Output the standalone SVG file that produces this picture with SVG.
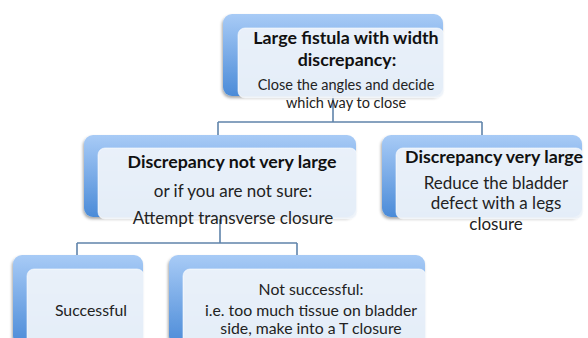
<svg xmlns="http://www.w3.org/2000/svg" width="588" height="338" viewBox="0 0 588 338">
<style>
.back{fill:url(#bg);filter:url(#sh)}
.card{fill:#eef3fa;fill-opacity:0.94;stroke:#ffffff;stroke-width:0.6}
.b{font-family:Lato,"Open Sans",sans-serif;font-weight:bold;font-size:17.8px;fill:#111;text-anchor:middle}
.t{font-family:Lato,"Open Sans",sans-serif;font-size:14.5px;fill:#222;text-anchor:middle}
.m{font-size:17px}
.s{font-size:15.8px}
.c{fill:none;stroke:#6084ab;stroke-width:1.6}
</style>
<defs>
<linearGradient id="bg" x1="0" y1="0" x2="0" y2="1">
<stop offset="0" stop-color="#a8cbf6"/>
<stop offset="1" stop-color="#4b8bd8"/>
</linearGradient>
<filter id="sh" x="-10%" y="-10%" width="120%" height="130%">
<feDropShadow dx="-1" dy="2" stdDeviation="1.5" flood-color="#000" flood-opacity="0.35"/>
</filter>
</defs>
<g id="connectors">
<path class="c" d="M333 96 V122 M218 122 H482 M218 122 V135 M482 122 V135"/>
<path class="c" d="M220 218 V243 M77 243 H297 M77 243 V255"/>
<path class="c" d="M297 243 V255"/>
</g>
<g id="n1">
<rect class="back" x="223" y="14" width="220" height="82" rx="9"/>
<rect class="card" x="238" y="28" width="206" height="70" rx="7"/>
<text class="b" x="346" y="44">Large fistula with width</text>
<text class="b" x="347" y="66">discrepancy:</text>
<text class="t" x="346" y="90">Close the angles and decide</text>
<text class="t" x="346" y="108">which way to close</text>
</g>
<g id="n2">
<rect class="back" x="84" y="135" width="272" height="82" rx="9"/>
<rect class="card" x="98" y="148" width="259" height="71" rx="7"/>
<text class="b" x="232" y="168">Discrepancy not very large</text>
<text class="t m" x="233" y="197">or if you are not sure:</text>
<text class="t m" x="233" y="224">Attempt transverse closure</text>
</g>
<g id="n3">
<rect class="back" x="382" y="135" width="200" height="82" rx="9"/>
<rect class="card" x="396" y="148" width="187" height="71" rx="7"/>
<text class="b" x="494" y="163">Discrepancy very large</text>
<text class="t m" x="496" y="189">Reduce the bladder</text>
<text class="t m" x="496" y="209">defect with a legs</text>
<text class="t m" x="496" y="230">closure</text>
</g>
<g id="n4">
<rect class="back" x="13" y="255" width="130" height="90" rx="9"/>
<rect class="card" x="27" y="269" width="117" height="78" rx="7"/>
<text class="t s" x="91" y="316">Successful</text>
</g>
<g id="n5">
<rect class="back" x="169" y="255" width="256" height="90" rx="9"/>
<rect class="card" x="183" y="269" width="243" height="78" rx="7"/>
<text class="t s" x="311" y="295">Not successful:</text>
<text class="t s" x="311" y="316">i.e. too much tissue on bladder</text>
<text class="t s" x="311" y="334">side, make into a T closure</text>
</g>
</svg>
